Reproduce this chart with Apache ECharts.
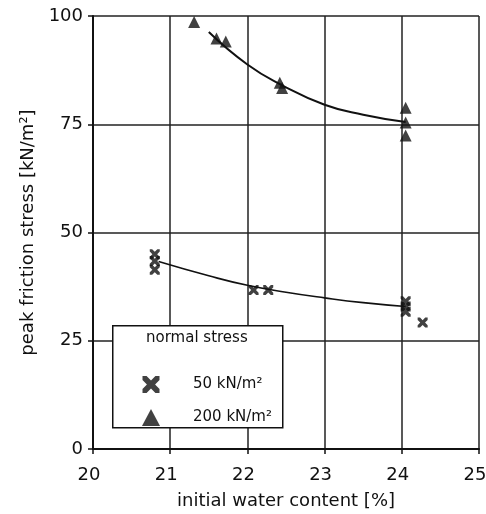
<!DOCTYPE html>
<html>
<head>
<meta charset="utf-8">
<script src="https://cdn.jsdelivr.net/npm/echarts@6/dist/echarts.min.js"></script>
<style>
  html, body { margin: 0; padding: 0; background: #fff; }
  #chart { width: 486px; height: 514px; }
</style>
</head>
<body>
<div id="chart"></div>
<script>
// measured points, 50 kN/m2
var x50 = [20.8, 20.8, 20.8, 22.08, 22.27, 24.05, 24.05, 24.05, 24.27];
var y50 = [45, 43.4, 41.4, 36.7, 36.7, 34.1, 32.9, 31.7, 29.2];
// measured points, 200 kN/m2
var x200 = [21.31, 21.6, 21.72, 22.42, 22.45, 24.05, 24.05, 24.05];
var y200 = [98.6, 94.8, 94.1, 84.6, 83.4, 78.8, 75.4, 72.4];
// fitted curves
var curve50X = [20.85, 21.5, 22, 22.5, 23, 23.5, 24.05];
var curve50Y = [43.3, 40, 37.8, 36.2, 34.9, 33.8, 32.9];
var curve200X = [21.5, 22, 22.45, 23, 23.5, 24.05];
var curve200Y = [96.3, 88.8, 84, 79.5, 77.2, 75.5];
var xTicks = [20, 21, 22, 23, 24, 25];
var yTicks = [0, 25, 50, 75, 100];

var crossPath = 'path://M0,0 L2.4,0 L5,2.6 L7.6,0 L10,0 L10,2.4 L7.4,5 L10,7.6 L10,10 L7.6,10 L5,7.4 L2.4,10 L0,10 L0,7.6 L2.6,5 L0,2.4 Z';

function pairs(xs, ys) {
  var out = [];
  for (var i = 0; i < xs.length; i++) out.push([xs[i], ys[i]]);
  return out;
}

var chart = echarts.init(document.getElementById('chart'));
var font = 'DejaVu Sans, Liberation Sans, Arial, sans-serif';

var option = {
  animation: false,
  backgroundColor: '#fff',
  textStyle: { fontFamily: font, color: '#111' },
  grid: { left: 93, right: 7, top: 16, bottom: 65, outerBoundsMode: 'none' },
  xAxis: {
    type: 'value',
    min: xTicks[0], max: xTicks[xTicks.length - 1], interval: 1,
    name: 'initial water content [%]',
    nameLocation: 'middle', nameGap: 43,
    nameTextStyle: { fontSize: 18, color: '#111', fontFamily: font },
    axisLine: { lineStyle: { color: '#111', width: 2 } },
    axisTick: { show: true, length: 5, lineStyle: { color: '#111', width: 1.5 } },
    axisLabel: { fontSize: 18, color: '#111', margin: 17, padding: [0, 8, 0, 0], fontFamily: font },
    splitLine: { show: true, lineStyle: { color: '#222', width: 1.5 } }
  },
  yAxis: {
    type: 'value',
    min: yTicks[0], max: yTicks[yTicks.length - 1], interval: 25,
    name: 'peak friction stress [kN/m²]',
    nameLocation: 'middle', nameGap: 49,
    nameTextStyle: { fontSize: 18, color: '#111', fontFamily: font },
    axisLine: { show: true, lineStyle: { color: '#111', width: 2 } },
    axisTick: { show: true, length: 5, lineStyle: { color: '#111', width: 1.5 } },
    axisLabel: { fontSize: 18, color: '#111', margin: 10, fontFamily: font },
    splitLine: { show: true, lineStyle: { color: '#222', width: 1.5 } }
  },
  legend: {
    orient: 'vertical',
    left: 137, top: 371,
    z: 20,
    itemGap: 16,
    itemWidth: 18, itemHeight: 17,
    textStyle: { fontSize: 15, color: '#111', fontFamily: font, padding: [0, 0, 0, 28] },
    data: [
      { name: '50 kN/m²', icon: crossPath },
      { name: '200 kN/m²', icon: 'triangle' }
    ]
  },
  graphic: [
    {
      type: 'rect', left: 112, top: 325, z: 5,
      shape: { width: 170, height: 102 },
      style: { fill: '#fff', stroke: '#111', lineWidth: 1.5 }
    },
    {
      type: 'text', left: 146, top: 331, z: 20,
      style: { text: 'normal stress', fontSize: 15, fill: '#111', fontFamily: font }
    }
  ],
  series: [
    {
      name: '50 kN/m²', type: 'scatter', symbol: crossPath, symbolSize: 10,
      itemStyle: { color: '#111' },
      data: pairs(x50, y50)
    },
    {
      name: '200 kN/m²', type: 'scatter', symbol: 'triangle', symbolSize: 12,
      itemStyle: { color: '#111' },
      data: pairs(x200, y200)
    },
    {
      name: 'fit50', type: 'line', smooth: true, showSymbol: false, symbol: 'none',
      lineStyle: { color: '#111', width: 1.6 },
      data: pairs(curve50X, curve50Y)
    },
    {
      name: 'fit200', type: 'line', smooth: true, showSymbol: false, symbol: 'none',
      lineStyle: { color: '#111', width: 2 },
      data: pairs(curve200X, curve200Y)
    }
  ]
};

chart.setOption(option);
</script>
</body>
</html>
